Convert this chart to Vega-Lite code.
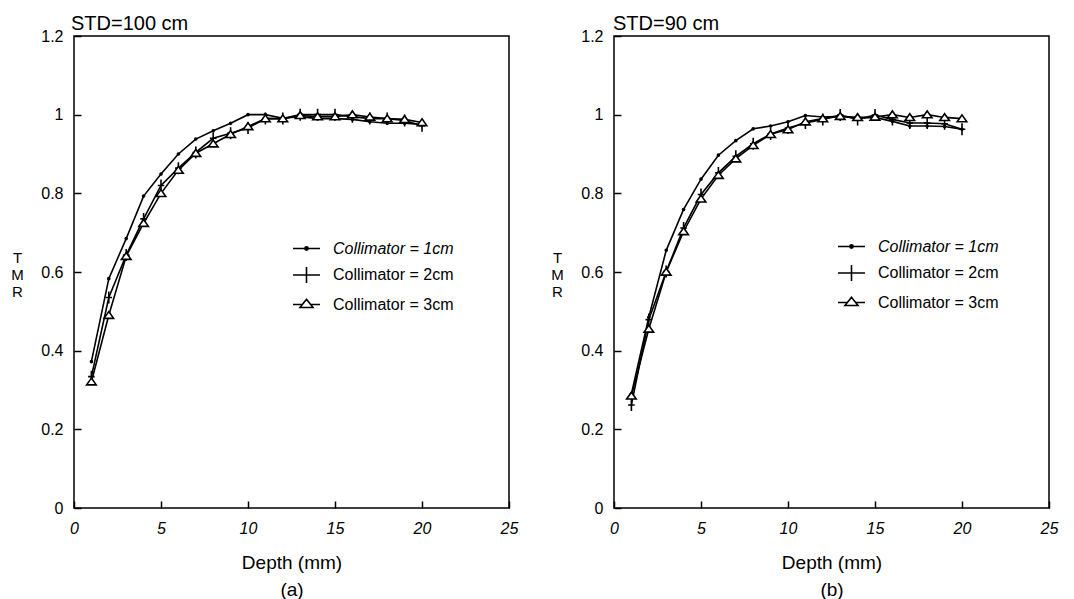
{
  "$schema": "https://vega.github.io/schema/vega-lite/v6.json",
  "background": "white",
  "padding": {"left": 10, "top": 13, "right": 10, "bottom": 2},
  "config": {
    "font": "Liberation Sans",
    "view": {"stroke": "black", "strokeWidth": 1.5},
    "axis": {
      "grid": false, "domain": false,
      "tickColor": "black", "tickSize": -7, "tickWidth": 1.5,
      "labelColor": "black", "titleColor": "black",
      "labelFont": "Liberation Sans", "titleFont": "Liberation Sans",
      "labelFontSize": 16, "titleFontWeight": "normal"
    },
    "title": {"font": "Liberation Sans", "fontSize": 20, "fontWeight": "normal", "color": "black", "anchor": "start", "frame": "group", "offset": -6}
  },
  "datasets": {
    "a": [
      {"depth": 1, "series": "Collimator = 1cm", "tmr": 0.372},
      {"depth": 2, "series": "Collimator = 1cm", "tmr": 0.583},
      {"depth": 3, "series": "Collimator = 1cm", "tmr": 0.685},
      {"depth": 4, "series": "Collimator = 1cm", "tmr": 0.793},
      {"depth": 5, "series": "Collimator = 1cm", "tmr": 0.849},
      {"depth": 6, "series": "Collimator = 1cm", "tmr": 0.900},
      {"depth": 7, "series": "Collimator = 1cm", "tmr": 0.938},
      {"depth": 8, "series": "Collimator = 1cm", "tmr": 0.959},
      {"depth": 9, "series": "Collimator = 1cm", "tmr": 0.978},
      {"depth": 10, "series": "Collimator = 1cm", "tmr": 1.000},
      {"depth": 11, "series": "Collimator = 1cm", "tmr": 1.000},
      {"depth": 12, "series": "Collimator = 1cm", "tmr": 0.991},
      {"depth": 13, "series": "Collimator = 1cm", "tmr": 0.995},
      {"depth": 14, "series": "Collimator = 1cm", "tmr": 0.990},
      {"depth": 15, "series": "Collimator = 1cm", "tmr": 0.990},
      {"depth": 16, "series": "Collimator = 1cm", "tmr": 0.988},
      {"depth": 17, "series": "Collimator = 1cm", "tmr": 0.982},
      {"depth": 18, "series": "Collimator = 1cm", "tmr": 0.978},
      {"depth": 19, "series": "Collimator = 1cm", "tmr": 0.978},
      {"depth": 20, "series": "Collimator = 1cm", "tmr": 0.975},
      {"depth": 1, "series": "Collimator = 2cm", "tmr": 0.334},
      {"depth": 2, "series": "Collimator = 2cm", "tmr": 0.535},
      {"depth": 3, "series": "Collimator = 2cm", "tmr": 0.643},
      {"depth": 4, "series": "Collimator = 2cm", "tmr": 0.735},
      {"depth": 5, "series": "Collimator = 2cm", "tmr": 0.820},
      {"depth": 6, "series": "Collimator = 2cm", "tmr": 0.864},
      {"depth": 7, "series": "Collimator = 2cm", "tmr": 0.904},
      {"depth": 8, "series": "Collimator = 2cm", "tmr": 0.940},
      {"depth": 9, "series": "Collimator = 2cm", "tmr": 0.953},
      {"depth": 10, "series": "Collimator = 2cm", "tmr": 0.966},
      {"depth": 11, "series": "Collimator = 2cm", "tmr": 0.990},
      {"depth": 12, "series": "Collimator = 2cm", "tmr": 0.990},
      {"depth": 13, "series": "Collimator = 2cm", "tmr": 1.000},
      {"depth": 14, "series": "Collimator = 2cm", "tmr": 1.000},
      {"depth": 15, "series": "Collimator = 2cm", "tmr": 1.000},
      {"depth": 16, "series": "Collimator = 2cm", "tmr": 0.995},
      {"depth": 17, "series": "Collimator = 2cm", "tmr": 0.990},
      {"depth": 18, "series": "Collimator = 2cm", "tmr": 0.990},
      {"depth": 19, "series": "Collimator = 2cm", "tmr": 0.985},
      {"depth": 20, "series": "Collimator = 2cm", "tmr": 0.972},
      {"depth": 1, "series": "Collimator = 3cm", "tmr": 0.321},
      {"depth": 2, "series": "Collimator = 3cm", "tmr": 0.490},
      {"depth": 3, "series": "Collimator = 3cm", "tmr": 0.640},
      {"depth": 4, "series": "Collimator = 3cm", "tmr": 0.724},
      {"depth": 5, "series": "Collimator = 3cm", "tmr": 0.800},
      {"depth": 6, "series": "Collimator = 3cm", "tmr": 0.859},
      {"depth": 7, "series": "Collimator = 3cm", "tmr": 0.902},
      {"depth": 8, "series": "Collimator = 3cm", "tmr": 0.926},
      {"depth": 9, "series": "Collimator = 3cm", "tmr": 0.950},
      {"depth": 10, "series": "Collimator = 3cm", "tmr": 0.970},
      {"depth": 11, "series": "Collimator = 3cm", "tmr": 0.990},
      {"depth": 12, "series": "Collimator = 3cm", "tmr": 0.990},
      {"depth": 13, "series": "Collimator = 3cm", "tmr": 0.998},
      {"depth": 14, "series": "Collimator = 3cm", "tmr": 0.995},
      {"depth": 15, "series": "Collimator = 3cm", "tmr": 0.995},
      {"depth": 16, "series": "Collimator = 3cm", "tmr": 1.000},
      {"depth": 17, "series": "Collimator = 3cm", "tmr": 0.994},
      {"depth": 18, "series": "Collimator = 3cm", "tmr": 0.990},
      {"depth": 19, "series": "Collimator = 3cm", "tmr": 0.988},
      {"depth": 20, "series": "Collimator = 3cm", "tmr": 0.980}
    ],
    "b": [
      {"depth": 1, "series": "Collimator = 1cm", "tmr": 0.290},
      {"depth": 2, "series": "Collimator = 1cm", "tmr": 0.485},
      {"depth": 3, "series": "Collimator = 1cm", "tmr": 0.655},
      {"depth": 4, "series": "Collimator = 1cm", "tmr": 0.759},
      {"depth": 5, "series": "Collimator = 1cm", "tmr": 0.836},
      {"depth": 6, "series": "Collimator = 1cm", "tmr": 0.897},
      {"depth": 7, "series": "Collimator = 1cm", "tmr": 0.934},
      {"depth": 8, "series": "Collimator = 1cm", "tmr": 0.964},
      {"depth": 9, "series": "Collimator = 1cm", "tmr": 0.971},
      {"depth": 10, "series": "Collimator = 1cm", "tmr": 0.982},
      {"depth": 11, "series": "Collimator = 1cm", "tmr": 0.998},
      {"depth": 12, "series": "Collimator = 1cm", "tmr": 0.994},
      {"depth": 13, "series": "Collimator = 1cm", "tmr": 0.996},
      {"depth": 14, "series": "Collimator = 1cm", "tmr": 0.991},
      {"depth": 15, "series": "Collimator = 1cm", "tmr": 0.993},
      {"depth": 16, "series": "Collimator = 1cm", "tmr": 0.983},
      {"depth": 17, "series": "Collimator = 1cm", "tmr": 0.971},
      {"depth": 18, "series": "Collimator = 1cm", "tmr": 0.971},
      {"depth": 19, "series": "Collimator = 1cm", "tmr": 0.970},
      {"depth": 20, "series": "Collimator = 1cm", "tmr": 0.963},
      {"depth": 1, "series": "Collimator = 2cm", "tmr": 0.262},
      {"depth": 2, "series": "Collimator = 2cm", "tmr": 0.479},
      {"depth": 3, "series": "Collimator = 2cm", "tmr": 0.601},
      {"depth": 4, "series": "Collimator = 2cm", "tmr": 0.712},
      {"depth": 5, "series": "Collimator = 2cm", "tmr": 0.797},
      {"depth": 6, "series": "Collimator = 2cm", "tmr": 0.852},
      {"depth": 7, "series": "Collimator = 2cm", "tmr": 0.894},
      {"depth": 8, "series": "Collimator = 2cm", "tmr": 0.926},
      {"depth": 9, "series": "Collimator = 2cm", "tmr": 0.951},
      {"depth": 10, "series": "Collimator = 2cm", "tmr": 0.966},
      {"depth": 11, "series": "Collimator = 2cm", "tmr": 0.979},
      {"depth": 12, "series": "Collimator = 2cm", "tmr": 0.988},
      {"depth": 13, "series": "Collimator = 2cm", "tmr": 0.999},
      {"depth": 14, "series": "Collimator = 2cm", "tmr": 0.988},
      {"depth": 15, "series": "Collimator = 2cm", "tmr": 0.999},
      {"depth": 16, "series": "Collimator = 2cm", "tmr": 0.988},
      {"depth": 17, "series": "Collimator = 2cm", "tmr": 0.979},
      {"depth": 18, "series": "Collimator = 2cm", "tmr": 0.979},
      {"depth": 19, "series": "Collimator = 2cm", "tmr": 0.977},
      {"depth": 20, "series": "Collimator = 2cm", "tmr": 0.963},
      {"depth": 1, "series": "Collimator = 3cm", "tmr": 0.285},
      {"depth": 2, "series": "Collimator = 3cm", "tmr": 0.455},
      {"depth": 3, "series": "Collimator = 3cm", "tmr": 0.600},
      {"depth": 4, "series": "Collimator = 3cm", "tmr": 0.703},
      {"depth": 5, "series": "Collimator = 3cm", "tmr": 0.786},
      {"depth": 6, "series": "Collimator = 3cm", "tmr": 0.846},
      {"depth": 7, "series": "Collimator = 3cm", "tmr": 0.888},
      {"depth": 8, "series": "Collimator = 3cm", "tmr": 0.922},
      {"depth": 9, "series": "Collimator = 3cm", "tmr": 0.950},
      {"depth": 10, "series": "Collimator = 3cm", "tmr": 0.962},
      {"depth": 11, "series": "Collimator = 3cm", "tmr": 0.982},
      {"depth": 12, "series": "Collimator = 3cm", "tmr": 0.990},
      {"depth": 13, "series": "Collimator = 3cm", "tmr": 0.996},
      {"depth": 14, "series": "Collimator = 3cm", "tmr": 0.993},
      {"depth": 15, "series": "Collimator = 3cm", "tmr": 0.994},
      {"depth": 16, "series": "Collimator = 3cm", "tmr": 1.000},
      {"depth": 17, "series": "Collimator = 3cm", "tmr": 0.993},
      {"depth": 18, "series": "Collimator = 3cm", "tmr": 1.000},
      {"depth": 19, "series": "Collimator = 3cm", "tmr": 0.993},
      {"depth": 20, "series": "Collimator = 3cm", "tmr": 0.990}
    ]
  },
  "spacing": 105,
  "bounds": "flush",
  "resolve": {"scale": {"shape": "independent", "fill": "independent"}, "legend": {"shape": "independent", "fill": "independent"}},
  "hconcat": [
    {
      "width": 435, "height": 472,
      "title": {"text": "STD=100 cm", "dx": -3},
      "data": {"name": "a"},
      "encoding": {
        "x": {"field": "depth", "type": "quantitative", "scale": {"domain": [0, 25], "nice": false, "zero": false},
          "axis": {"title": ["Depth (mm)", "(a)"], "values": [0, 5, 10, 15, 20, 25], "labelFontStyle": "italic", "labelPadding": 19, "titleFontSize": 19, "titleLineHeight": 27, "titlePadding": 17, "labelFlush": false}},
        "y": {"field": "tmr", "type": "quantitative", "scale": {"domain": [0, 1.2], "nice": false},
          "axis": {"title": ["T", "M", "R"], "titleAngle": 0, "titleX": -57, "titleY": 221, "titleAlign": "center", "titleBaseline": "middle", "titleFontSize": 15, "titleLineHeight": 17, "values": [0, 0.2, 0.4, 0.6, 0.8, 1, 1.2], "format": "~g", "labelPadding": 18}}
      },
      "layer": [
        {"mark": {"type": "line", "color": "black", "strokeWidth": 1.6},
         "encoding": {"detail": {"field": "series", "type": "nominal"}}},
        {"mark": {"type": "point", "stroke": "black", "strokeWidth": 1.6, "opacity": 1, "size": 144},
         "encoding": {
           "shape": {"field": "series", "type": "nominal",
             "scale": {"range": ["M0.17,0A0.17,0.17,0,1,1,-0.17,0A0.17,0.17,0,1,1,0.17,0Z", "M-0.55,0H0.55M0,-1V1", "M0,-0.62L0.8,0.52L-0.8,0.52Z"]},
             "legend": null},
           "fill": {"field": "series", "type": "nominal",
             "scale": {"domain": ["Collimator = 1cm", "Collimator = 2cm", "Collimator = 3cm"], "range": ["black", "white", "white"]},
             "legend": {"orient": "none", "legendX": 218, "legendY": 198, "title": null, "symbolSize": 729, "labelFont": "Liberation Sans", "labelFontSize": 16, "labelColor": "black", "labelOffset": 12, "rowPadding": 3.5, "padding": 0,
               "symbolStrokeColor": "black", "symbolStrokeWidth": 1.6, "symbolOpacity": 1,
               "encode": {
                 "symbols": {"update": {
                   "shape": {"signal": "datum.value === 'Collimator = 1cm' ? 'M-1,0H1M0.12,0A0.12,0.12,0,1,1,-0.12,0A0.12,0.12,0,1,1,0.12,0Z' : datum.value === 'Collimator = 2cm' ? 'M-1,0H1M0,-0.6V0.6' : 'M-1,0H-0.3M0.3,0H1M0,-0.38L0.48,0.22L-0.48,0.22Z'"},
                   "stroke": {"value": "black"}}},
                 "labels": {"update": {"fontStyle": {"signal": "datum.value === 'Collimator = 1cm' ? 'italic' : 'normal'"}}}
               }}}
         }}
      ]
    },
    {
      "width": 435, "height": 472,
      "title": {"text": "STD=90 cm", "dx": -1},
      "data": {"name": "b"},
      "encoding": {
        "x": {"field": "depth", "type": "quantitative", "scale": {"domain": [0, 25], "nice": false, "zero": false},
          "axis": {"title": ["Depth (mm)", "(b)"], "values": [0, 5, 10, 15, 20, 25], "labelFontStyle": "italic", "labelPadding": 19, "titleFontSize": 19, "titleLineHeight": 27, "titlePadding": 17, "labelFlush": false}},
        "y": {"field": "tmr", "type": "quantitative", "scale": {"domain": [0, 1.2], "nice": false},
          "axis": {"title": ["T", "M", "R"], "titleAngle": 0, "titleX": -57, "titleY": 221, "titleAlign": "center", "titleBaseline": "middle", "titleFontSize": 15, "titleLineHeight": 17, "values": [0, 0.2, 0.4, 0.6, 0.8, 1, 1.2], "format": "~g", "labelPadding": 18}}
      },
      "layer": [
        {"mark": {"type": "line", "color": "black", "strokeWidth": 1.6},
         "encoding": {"detail": {"field": "series", "type": "nominal"}}},
        {"mark": {"type": "point", "stroke": "black", "strokeWidth": 1.6, "opacity": 1, "size": 144},
         "encoding": {
           "shape": {"field": "series", "type": "nominal",
             "scale": {"range": ["M0.17,0A0.17,0.17,0,1,1,-0.17,0A0.17,0.17,0,1,1,0.17,0Z", "M-0.55,0H0.55M0,-1V1", "M0,-0.62L0.8,0.52L-0.8,0.52Z"]},
             "legend": null},
           "fill": {"field": "series", "type": "nominal",
             "scale": {"domain": ["Collimator = 1cm", "Collimator = 2cm", "Collimator = 3cm"], "range": ["black", "white", "white"]},
             "legend": {"orient": "none", "legendX": 223, "legendY": 196, "title": null, "symbolSize": 729, "labelFont": "Liberation Sans", "labelFontSize": 16, "labelColor": "black", "labelOffset": 12, "rowPadding": 3.5, "padding": 0,
               "symbolStrokeColor": "black", "symbolStrokeWidth": 1.6, "symbolOpacity": 1,
               "encode": {
                 "symbols": {"update": {
                   "shape": {"signal": "datum.value === 'Collimator = 1cm' ? 'M-1,0H1M0.12,0A0.12,0.12,0,1,1,-0.12,0A0.12,0.12,0,1,1,0.12,0Z' : datum.value === 'Collimator = 2cm' ? 'M-1,0H1M0,-0.6V0.6' : 'M-1,0H-0.3M0.3,0H1M0,-0.38L0.48,0.22L-0.48,0.22Z'"},
                   "stroke": {"value": "black"}}},
                 "labels": {"update": {"fontStyle": {"signal": "datum.value === 'Collimator = 1cm' ? 'italic' : 'normal'"}}}
               }}}
         }}
      ]
    }
  ]
}
